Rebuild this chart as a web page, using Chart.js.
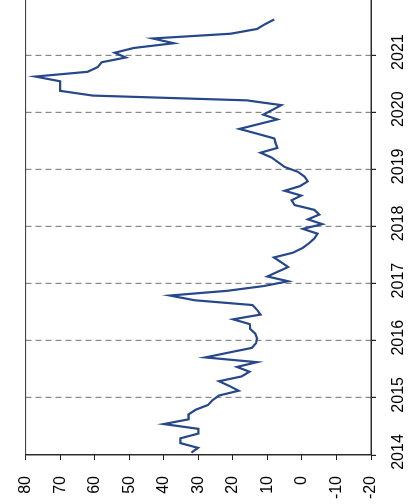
<!DOCTYPE html>
<html>
<head>
<meta charset="utf-8">
<script src="https://cdn.jsdelivr.net/npm/chart.js@4"></script>
<style>
    html, body { margin: 0; padding: 0; background: #fff; overflow: hidden; }
    body { width: 408px; height: 504px; position: relative; }
    /* chart is drawn landscape and turned a quarter left */
    #wrap {
        position: absolute; left: 0; top: 0;
        width: 519px; height: 408px;
        transform-origin: 0 0;
        transform: translateY(504px) rotate(-90deg);
    }
</style>
</head>
<body>
<div id="wrap"><canvas id="chart" width="519" height="408"></canvas></div>
<script>
// monthly series, Jan 2014 .. Aug 2021
const startYear = 2014;
const values = [
    32.0, 30.1, 35.2, 35.2, 30.0, 30.0, 40.0, 32.8, 32.9, 30.8, 27.2, 25.9,
    24.0, 18.3, 21.0, 24.0, 17.5, 15.2, 18.8, 13.0, 28.0, 21.3, 14.5, 13.3,
    13.0, 13.5, 15.0, 15.1, 19.9, 12.0, 13.0, 14.3, 31.0, 38.2, 21.5, 11.0,
    4.0, 10.0, 7.0, 4.0, 6.0, 8.1, 2.6, -0.2, -2.1, -3.6, -4.5, -0.3,
    -5.9, -1.7, -5.0, -3.6, 2.1, 3.0, 0.2, 5.0, 0.5, -1.7, -0.7, 1.2,
    5.0, 6.9, 8.8, 12.0, 7.1, 7.6, 8.0, 13.0, 18.1, 12.6, 7.1, 11.2,
    8.5, 6.0, 16.0, 60.5, 70.0, 70.0, 70.0, 77.2, 62.0, 59.1, 58.0, 51.0,
    54.2, 48.7, 37.1, 43.2, 20.6, 13.0, 10.7, 8.0
];
const years = [2014, 2015, 2016, 2017, 2018, 2019, 2020, 2021, 2022];
const valueTicks = [-20, -10, 0, 10, 20, 30, 40, 50, 60, 70, 80];

const points = values.map((v, i) => ({ x: startYear + (i + 0.5) / 12, y: v }));

const frame = {
    id: 'frame',
    afterDraw(chart) {
        const { ctx, chartArea: a } = chart;
        ctx.save();
        ctx.strokeStyle = '#333';
        ctx.lineWidth = 1;
        ctx.strokeRect(a.left, a.top, a.right - a.left, a.bottom - a.top);
        ctx.restore();
    }
};

Chart.defaults.font.family = '"Liberation Sans", Arial, sans-serif';
Chart.defaults.font.size = 16;
Chart.defaults.color = '#000';

new Chart(document.getElementById('chart'), {
    type: 'line',
    data: {
        datasets: [{
            data: points,
            borderColor: '#26478a',
            borderWidth: 2.2,
            pointRadius: 0,
            tension: 0,
            fill: false
        }]
    },
    options: {
        responsive: false,
        animation: false,
        layout: { padding: { top: 20, right: 1, left: 0, bottom: 0 } },
        plugins: { legend: { display: false }, tooltip: { enabled: false } },
        scales: {
            x: {
                type: 'linear',
                min: years[0],
                max: years[years.length - 1],
                afterBuildTicks: s => { s.ticks = years.map(y => ({ value: y })); },
                ticks: {
                    autoSkip: false,
                    maxRotation: 0,
                    padding: 13,
                    labelOffset: 3,
                    callback: v => v === 2022 ? '' : String(v)
                },
                grid: {
                    color: c => (c.tick && (c.tick.value === 2014 || c.tick.value === 2022)) ? 'rgba(0,0,0,0)' : '#888',
                    lineWidth: 1.2,
                    tickColor: '#222',
                    tickLength: 5,
                    tickBorderDash: []
                },
                border: { color: '#222', width: 1, dash: [6, 4] },
                afterFit: s => { s.height = 37; }
            },
            y: {
                min: -20,
                max: 80,
                afterBuildTicks: s => { s.ticks = valueTicks.map(v => ({ value: v })); },
                ticks: { padding: 16, callback: v => String(v) },
                grid: { drawOnChartArea: false, tickLength: 5, tickColor: '#222', color: '#222' },
                border: { color: '#222', width: 1 },
                afterFit: s => { s.width = 49; }
            }
        }
    },
    plugins: [frame]
});
</script>
</body>
</html>
